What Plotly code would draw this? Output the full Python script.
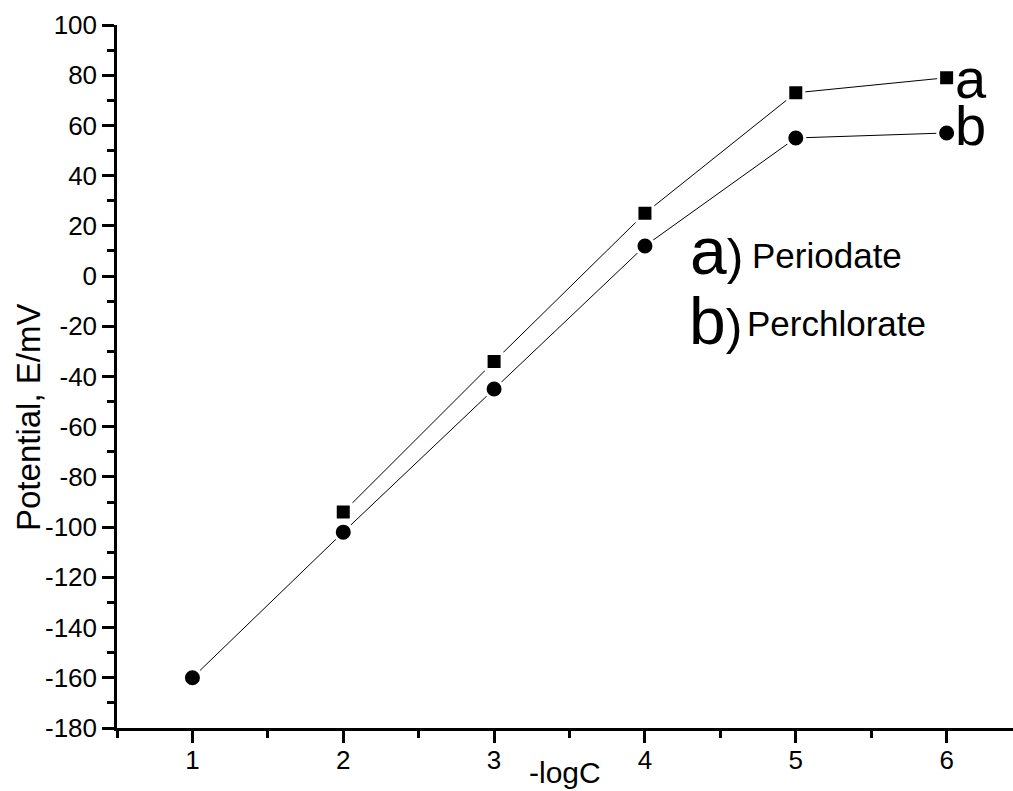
import plotly.graph_objects as go

# Data
x_a = [2, 3, 4, 5, 6]
y_a = [-94, -34, 25, 73, 79]          # a) Periodate
x_b = [1, 2, 3, 4, 5, 6]
y_b = [-160, -102, -45, 12, 55, 57]   # b) Perchlorate

x_ticks = [1, 2, 3, 4, 5, 6]
y_ticks = list(range(-180, 101, 20))
y_tick_text = [str(v) for v in y_ticks]

FONT = "Liberation Sans, Arial, sans-serif"

fig = go.Figure()
fig.add_trace(go.Scatter(
    x=x_a, y=y_a, mode="lines+markers", name="Periodate",
    line=dict(color="black", width=1),
    marker=dict(symbol="square", size=16, color="black", line=dict(color="white", width=3)),
))
fig.add_trace(go.Scatter(
    x=x_b, y=y_b, mode="lines+markers", name="Perchlorate",
    line=dict(color="black", width=1),
    marker=dict(symbol="circle", size=18, color="black", line=dict(color="white", width=3)),
))

L, R, T, B = 117, 0, 25, 63
W, H = 1013, 791
pw, ph = W - L - R, H - T - B

def px(xp):
    return (xp - L) / pw

def py(yp):
    return (H - B - yp) / ph

annotations = [
    dict(text="Potential, E/mV", x=px(28), y=py(418), textangle=-90, font=dict(size=33)),
    dict(text="-logC", x=px(565), y=py(772), font=dict(size=30)),
    dict(text="a", x=px(953), y=py(78), xanchor="left", font=dict(size=56)),
    dict(text="b", x=px(953), y=py(126), xanchor="left", font=dict(size=56)),
    dict(text='a<span style="font-size:50px">)</span>', x=px(688), y=py(251), xanchor="left", font=dict(size=66)),
    dict(text="Periodate", x=px(750), y=py(255), xanchor="left", font=dict(size=35)),
    dict(text='b<span style="font-size:50px">)</span>', x=px(687), y=py(321), xanchor="left", font=dict(size=66)),
    dict(text="Perchlorate", x=px(745), y=py(323), xanchor="left", font=dict(size=35)),
]
for a in annotations:
    a.update(xref="paper", yref="paper", showarrow=False)
    a.setdefault("xanchor", "center")
    a["yanchor"] = "middle"
    a["font"].update(family=FONT, color="black")

fig.update_layout(
    width=W, height=H, autosize=False,
    margin=dict(l=L, r=R, t=T, b=B, pad=0),
    paper_bgcolor="white", plot_bgcolor="white",
    showlegend=False,
    font=dict(family=FONT, size=26, color="black"),
    annotations=annotations,
)
fig.update_xaxes(
    range=[0.5, 6.44], tickmode="array", tickvals=x_ticks,
    ticks="outside", ticklen=12, tickwidth=2.5, tickcolor="black",
    showline=True, linewidth=2.5, linecolor="black",
    showgrid=False, zeroline=False, ticklabelstandoff=-5,
    minor=dict(dtick=0.5, tick0=0.5, ticks="outside", ticklen=7, tickwidth=2.5, tickcolor="black", showgrid=False),
    tickfont=dict(size=26, family=FONT, color="black"),
)
fig.update_yaxes(
    range=[-180, 100], tickmode="array", tickvals=y_ticks, ticktext=y_tick_text,
    ticks="outside", ticklen=12, tickwidth=2.5, tickcolor="black",
    showline=True, linewidth=2.5, linecolor="black",
    showgrid=False, zeroline=False,
    minor=dict(dtick=10, tick0=0, ticks="outside", ticklen=7, tickwidth=2.5, tickcolor="black", showgrid=False),
    tickfont=dict(size=26, family=FONT, color="black"),
)

fig.write_html(
    "out.html",
    config={"displayModeBar": False},
    post_script="document.body.style.margin='0';document.body.style.overflow='hidden';",
)
